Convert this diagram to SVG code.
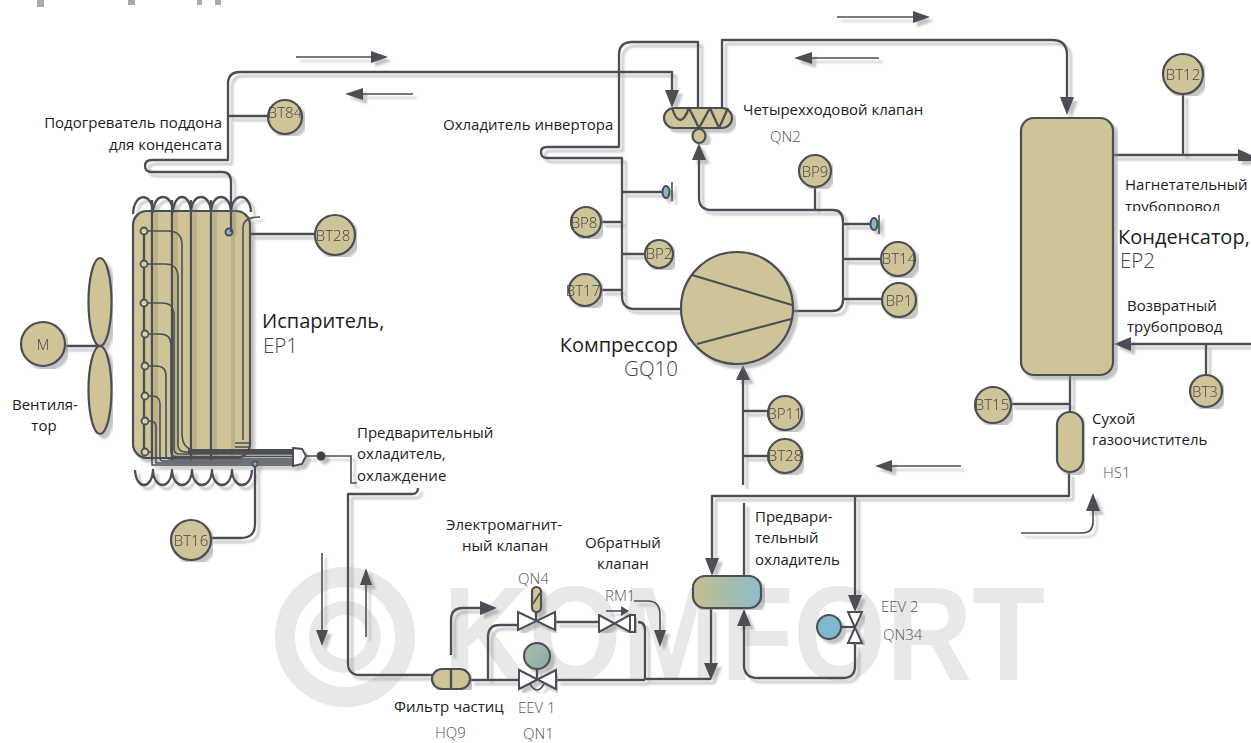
<svg xmlns="http://www.w3.org/2000/svg" width="1251" height="743" viewBox="0 0 1251 743">
<style>
text{font-family:"Open Sans","Noto Sans","Liberation Sans",sans-serif;font-size:15px;fill:#1c1c1c}
.big{font-size:20px}
.lt{font-weight:300;fill:#555;font-size:15px}
.ltb{font-weight:300;fill:#444;font-size:20.5px}
.tag{font-weight:300;fill:#444;font-size:15px;text-anchor:middle}
.p{fill:none;stroke:#4b4f55;stroke-width:2.3;stroke-linejoin:round}
.t{fill:none;stroke:#4b4f55;stroke-width:1.6}
.n{fill:#cfc497;stroke:#4b4f55;stroke-width:2.2}
.b{fill:#7fb9cf;stroke:#4b4f55;stroke-width:2}
.v{fill:#fff;stroke:#4b4f55;stroke-width:2}
.a{fill:#4b4f55;stroke:none}
.wm{fill:none;stroke:#e8e8e8;stroke-width:20}
</style>
<defs>
<filter id="sh" x="-5%" y="-5%" width="110%" height="110%"><feDropShadow dx="4" dy="4" stdDeviation="0.8" flood-color="#888" flood-opacity="0.5"/></filter>
<linearGradient id="cool" x1="0" x2="1" y1="0" y2="0"><stop offset="0" stop-color="#c9bf8f"/><stop offset="0.55" stop-color="#a3bcae"/><stop offset="1" stop-color="#8fbdca"/></linearGradient>
<linearGradient id="ball" x1="0" x2="1" y1="0" y2="1"><stop offset="0" stop-color="#a6bfa4"/><stop offset="1" stop-color="#8fa9ac"/></linearGradient>
<clipPath id="cut"><rect x="1100" y="196" width="151" height="15"/></clipPath>
</defs>

<g id="watermark">
<circle class="wm" cx="345" cy="637" r="60"/>
<circle cx="345" cy="637" r="29" fill="none" stroke="#e8e8e8" stroke-width="14"/>
<text x="443" y="680" textLength="602" lengthAdjust="spacingAndGlyphs" style="font-family:'Liberation Sans',sans-serif;font-size:133px;font-weight:700;fill:#e8e8e8">KOMFORT</text>
</g>
<g id="title-fragment" fill="#aaa">
<rect x="37" y="0" width="7" height="7"/><rect x="128" y="0" width="7" height="5"/><rect x="197" y="0" width="5" height="5"/><rect x="215" y="0" width="6" height="5"/>
</g>

<g id="evaporator" filter="url(#sh)">
<rect class="n" x="133" y="211" width="117" height="247" rx="14"/>
<path d="M156 212V457M176 212V457M195 212V457M215 212V457M233 212V457" fill="none" stroke="#b0a679" stroke-width="4" opacity=".6"/>
<path class="p" d="M133 214C134 192 152 192 153 212C154 192 172 192 173 212C174 192 190 192 191 212C192 192 210 192 211 212C212 192 230 192 231 212C232 192 250 192 251 212"/>
<path class="p" d="M135 470C136 490 152 490 153 470C154 490 171 490 172 470C173 490 191 490 192 470C193 490 211 490 212 470C213 490 231 490 232 470C233 490 251 490 252 470"/>
<path class="p" d="M152 200V460M172 200V460M191 200V460M211 200V460"/>
<path class="p" d="M144 231V452"/>
<path class="t" d="M144 231H168Q182 231 182 245V433Q182 450 196 450H293"/>
<path class="t" d="M144 264H165Q178 264 178 277V445Q178 452 186 452H293"/>
<path class="t" d="M144 303H162Q174 303 174 315V449Q174 454 180 454H293"/>
<path class="t" d="M144 334H160Q171 334 171 345V452Q171 456.500 176 456.500H293"/>
<path class="t" d="M144 366H156Q166 366 166 376V455Q166 459 170 459H293"/>
<path class="t" d="M144 396H152Q160 396 160 404V458Q160 461 163 461H293"/>
<path class="t" d="M144 421H150Q156 421 156 427V463H293"/>
<path class="t" d="M144 452H152V465H293"/>
<path d="M188 451.500H293" fill="none" stroke="#4b4f55" stroke-width="5"/>
<path class="t" d="M243 440V228Q243 217 260 217M235 443H249M235 447H249"/>
<g fill="#d8cfa5" stroke="#4b4f55" stroke-width="1.8"><circle cx="144" cy="231" r="3.500"/><circle cx="144" cy="264" r="3.500"/><circle cx="144" cy="303" r="3.500"/><circle cx="145" cy="334" r="3.500"/><circle cx="145" cy="366" r="3.500"/><circle cx="145" cy="396" r="3.500"/><circle cx="145" cy="421" r="3.500"/><circle cx="145" cy="452" r="3.500"/></g>
<circle class="b" cx="229" cy="232" r="3.500"/>
<circle cx="255" cy="464" r="2.500" fill="#7fb9cf" stroke="#4b4f55" stroke-width="1.5"/>
<path d="M293 448L302 449L306 456L302 464L293 466Z" fill="#fff" stroke="#4b4f55" stroke-width="2"/>
</g>

<g id="connectors" filter="url(#sh)">
<path class="p" d="M672 92V72H240Q228 72 228 84V160H152Q145 160 145 166Q145 172 152 172H222Q231 172 231 182V232"/>
<path class="p" d="M698 108V42H632Q619 42 619 55V147H547Q541 147 541 152Q541 158 547 158H622V296Q622 309 635 309H681"/>
<path class="p" d="M722 108V40H1052Q1067 40 1067 55V100"/>
<path class="p" d="M699 160V198Q699 210 712 210H833Q843 210 843 222V300Q843 311 832 311H793"/>
<path class="p" d="M743 380V485"/>
<path class="p" d="M1113 155H1240"/>
<path class="p" d="M1251 344H1128"/>
<path class="p" d="M1070 375V412"/>
<path class="p" d="M1069 472V496H712V560"/>
<path class="p" d="M855 496V597"/>
<path class="p" d="M744 503V576"/>
<path class="p" d="M711 608V665"/>
<path class="p" d="M744 623V665Q744 678 758 678H843Q855 678 855 666V643"/>
<path class="t" d="M306 456H351V483H357"/>
<path class="p" d="M418 488Q418 494 412 494H348V663Q348 675 360 675H432"/>
<path class="p" d="M470 680H519"/>
<path class="p" d="M556 680H645"/>
<path class="p" d="M645 679H711"/>
<path class="p" d="M488 680V637Q488 625 500 625H518"/>
<path class="p" d="M555 622H600"/>
<path class="p" d="M638 622Q645 622 645 630V680"/>
<path class="p" d="M451 655V620Q451 608 463 608H482"/>
<path class="t" d="M634 601H648Q660 601 660 615V632"/>
<path class="t" d="M606 611H622"/>
<path class="t" d="M322 553V632M366 637V584"/>
<path class="t" d="M296 57H372M413 94H362M837 17H913M879 58H811M961 466H891"/>
<path class="t" d="M1021 533H1082Q1093 533 1093 522V508"/>
<path class="p" d="M228 116H268M250 234H315M99 346H43"/>
<path class="p" d="M622 192H663M622 222H601M622 254H645M622 290H601M843 224H870M843 259H881M843 299H882M815 187V210M743 411H768M743 456H768M1183 94V155M1206 344V375M1010 404H1070"/>
<path class="p" d="M255 466V524Q255 538 241 538H208"/>
<path class="a" d="M665 90H679L672 108Z"/>
<path class="a" d="M692 160L699 143L706 160ZM1060 97H1074L1067 115ZM371 51L388 57L371 63ZM363 88L345 94L363 100ZM913 11L930 17L913 23ZM812 52L794 58L812 64ZM892 460L875 466L892 472ZM1238 149L1251 155V161L1238 161ZM1131 337L1114 344L1131 351ZM1086 511L1093 493L1100 511ZM705 558H719L712 576ZM848 595H862L855 612ZM704 663H718L711 680ZM737 626L744 609L751 626ZM736 380L743 365L750 380ZM480 601L497 608L480 615ZM654 630H666L660 647ZM316 630H328L322 646ZM360 585L366 568L372 585ZM621 606L629 611L621 616Z"/>
</g>

<g id="fan" filter="url(#sh)"><ellipse class="n" cx="100" cy="302" rx="11.500" ry="44"/><ellipse class="n" cx="100" cy="390" rx="11.500" ry="44"/></g>
<g id="motor" filter="url(#sh)"><circle class="n" cx="43" cy="344" r="22"/><text x="43" y="350" class="tag">M</text></g>

<g id="four-way-valve" filter="url(#sh)">
<rect class="n" x="664" y="108" width="68" height="20" rx="10"/>
<path class="p" d="M672 108Q680 132 689 108L699 128L710 108L719 128L728 108"/>
<ellipse class="n" cx="699" cy="136" rx="6.500" ry="7"/>
</g>
<g id="compressor" filter="url(#sh)">
<circle class="n" cx="737" cy="308" r="56"/>
<path class="p" d="M692 275L792 305M697 344L791 319"/>
</g>
<g id="condenser" filter="url(#sh)"><rect class="n" x="1021" y="118" width="92" height="257" rx="13"/></g>
<g id="dryer" filter="url(#sh)"><rect class="n" x="1057" y="412" width="26" height="60" rx="13"/></g>
<g id="precooler" filter="url(#sh)"><rect x="693" y="576" width="68" height="32" rx="12" fill="url(#cool)" stroke="#4b4f55" stroke-width="2.2"/></g>
<g id="particle-filter" filter="url(#sh)"><rect class="n" x="432" y="669" width="38" height="20" rx="10"/><path class="p" d="M451 669V689"/></g>
<g id="eev1" filter="url(#sh)">
<path class="v" d="M519 670L556 689V670L519 689Z"/>
<path class="t" d="M530 684Q537 696 544 684"/>
<path class="p" d="M537 668V680"/>
<circle cx="537" cy="656" r="13" fill="url(#ball)" stroke="#4b4f55" stroke-width="2"/>
</g>
<g id="solenoid-valve" filter="url(#sh)">
<path class="v" d="M518 612L555 630V612L518 630Z"/>
<path class="p" d="M536 610V621"/>
<rect class="n" x="532" y="587" width="9" height="25" rx="4.500"/>
<path class="t" d="M533 604L540 593"/>
</g>
<g id="check-valve" filter="url(#sh)">
<path class="v" d="M599 615L630 632V615L599 632Z"/>
<rect class="v" x="630" y="615" width="5" height="17"/>
</g>
<g id="eev2" filter="url(#sh)">
<path class="v" d="M848 612H862L848 643H862Z"/>
<path class="p" d="M840 627H855"/>
<circle class="b" cx="829" cy="627" r="12"/>
</g>
<g id="caps" filter="url(#sh)">
<ellipse class="b" cx="666" cy="192" rx="3.500" ry="6"/><path class="t" d="M672 182V201"/>
<ellipse class="b" cx="874" cy="224" rx="3.500" ry="6"/><path class="t" d="M879 215V234"/>
<circle cx="321" cy="456" r="4.500" fill="#3f4348" stroke="none"/>
</g>

<g id="BT84" filter="url(#sh)"><circle class="n" cx="285" cy="117" r="17"/><text class="tag" x="285" y="118">BT84</text></g>
<g id="BT28a" filter="url(#sh)"><circle class="n" cx="335" cy="235" r="20"/><text class="tag" x="333" y="241">BT28</text></g>
<g id="BT16" filter="url(#sh)"><circle class="n" cx="191" cy="540" r="20"/><text class="tag" x="191" y="546">BT16</text></g>
<g id="BP9" filter="url(#sh)"><circle class="n" cx="815" cy="171" r="16"/><text class="tag" x="815" y="177">BP9</text></g>
<g id="BP8" filter="url(#sh)"><circle class="n" cx="586" cy="222" r="15"/><text class="tag" x="584" y="228">BP8</text></g>
<g id="BP2" filter="url(#sh)"><circle class="n" cx="659" cy="254" r="14"/><text class="tag" x="659" y="259">BP2</text></g>
<g id="BT17" filter="url(#sh)"><circle class="n" cx="585" cy="290" r="16"/><text class="tag" x="583" y="296">BT17</text></g>
<g id="BT14" filter="url(#sh)"><circle class="n" cx="898" cy="259" r="17"/><text class="tag" x="899" y="264">BT14</text></g>
<g id="BP1" filter="url(#sh)"><circle class="n" cx="899" cy="300" r="17"/><text class="tag" x="899" y="306">BP1</text></g>
<g id="BP11" filter="url(#sh)"><circle class="n" cx="785" cy="413" r="17"/><text class="tag" x="785" y="419">BP11</text></g>
<g id="BT28b" filter="url(#sh)"><circle class="n" cx="785" cy="456" r="17"/><text class="tag" x="785" y="461">BT28</text></g>
<g id="BT12" filter="url(#sh)"><circle class="n" cx="1183" cy="74" r="20"/><text class="tag" x="1183" y="80">BT12</text></g>
<g id="BT3" filter="url(#sh)"><circle class="n" cx="1206" cy="391" r="16"/><text class="tag" x="1205" y="397">BT3</text></g>
<g id="BT15" filter="url(#sh)"><circle class="n" cx="993" cy="405" r="18"/><text class="tag" x="992" y="410">BT15</text></g>

<g id="labels">
<text x="222" y="128" text-anchor="end">Подогреватель поддона</text>
<text x="222" y="150" text-anchor="end">для конденсата</text>
<text x="443" y="130">Охладитель инвертора</text>
<text x="743" y="115">Четырехходовой клапан</text>
<text class="lt" x="770" y="142">QN2</text>
<text x="1125" y="190">Нагнетательный</text>
<text x="1125" y="212" clip-path="url(#cut)">трубопровод</text>
<text class="big" x="1118" y="244">Конденсатор,</text>
<text class="ltb" x="1120" y="268">EP2</text>
<text x="1127" y="311">Возвратный</text>
<text x="1127" y="332">трубопровод</text>
<text x="1092" y="424">Сухой</text>
<text x="1092" y="445">газоочиститель</text>
<text class="lt" x="1103" y="478">HS1</text>
<text class="big" x="262" y="328">Испаритель,</text>
<text class="ltb" x="263" y="353">EP1</text>
<text x="12" y="410">Вентиля-</text>
<text x="44" y="431" text-anchor="middle">тор</text>
<text x="357" y="438">Предварительный</text>
<text x="357" y="459">охладитель,</text>
<text x="357" y="481">охлаждение</text>
<text class="big" x="678" y="352" text-anchor="end">Компрессор</text>
<text class="ltb" x="678" y="376" text-anchor="end">GQ10</text>
<text x="446" y="530">Электромагнит-</text>
<text x="462" y="551">ный клапан</text>
<text x="585" y="548">Обратный</text>
<text x="597" y="569">клапан</text>
<text class="lt" x="518" y="584">QN4</text>
<text class="lt" x="605" y="601">RM1</text>
<text x="755" y="522">Предвари-</text>
<text x="755" y="543">тельный</text>
<text x="755" y="565">охладитель</text>
<text class="lt" x="881" y="612">EEV 2</text>
<text class="lt" x="883" y="640">QN34</text>
<text x="394" y="712">Фильтр частиц</text>
<text class="lt" x="435" y="738">HQ9</text>
<text class="lt" x="518" y="713">EEV 1</text>
<text class="lt" x="523" y="739">QN1</text>
</g>
</svg>
